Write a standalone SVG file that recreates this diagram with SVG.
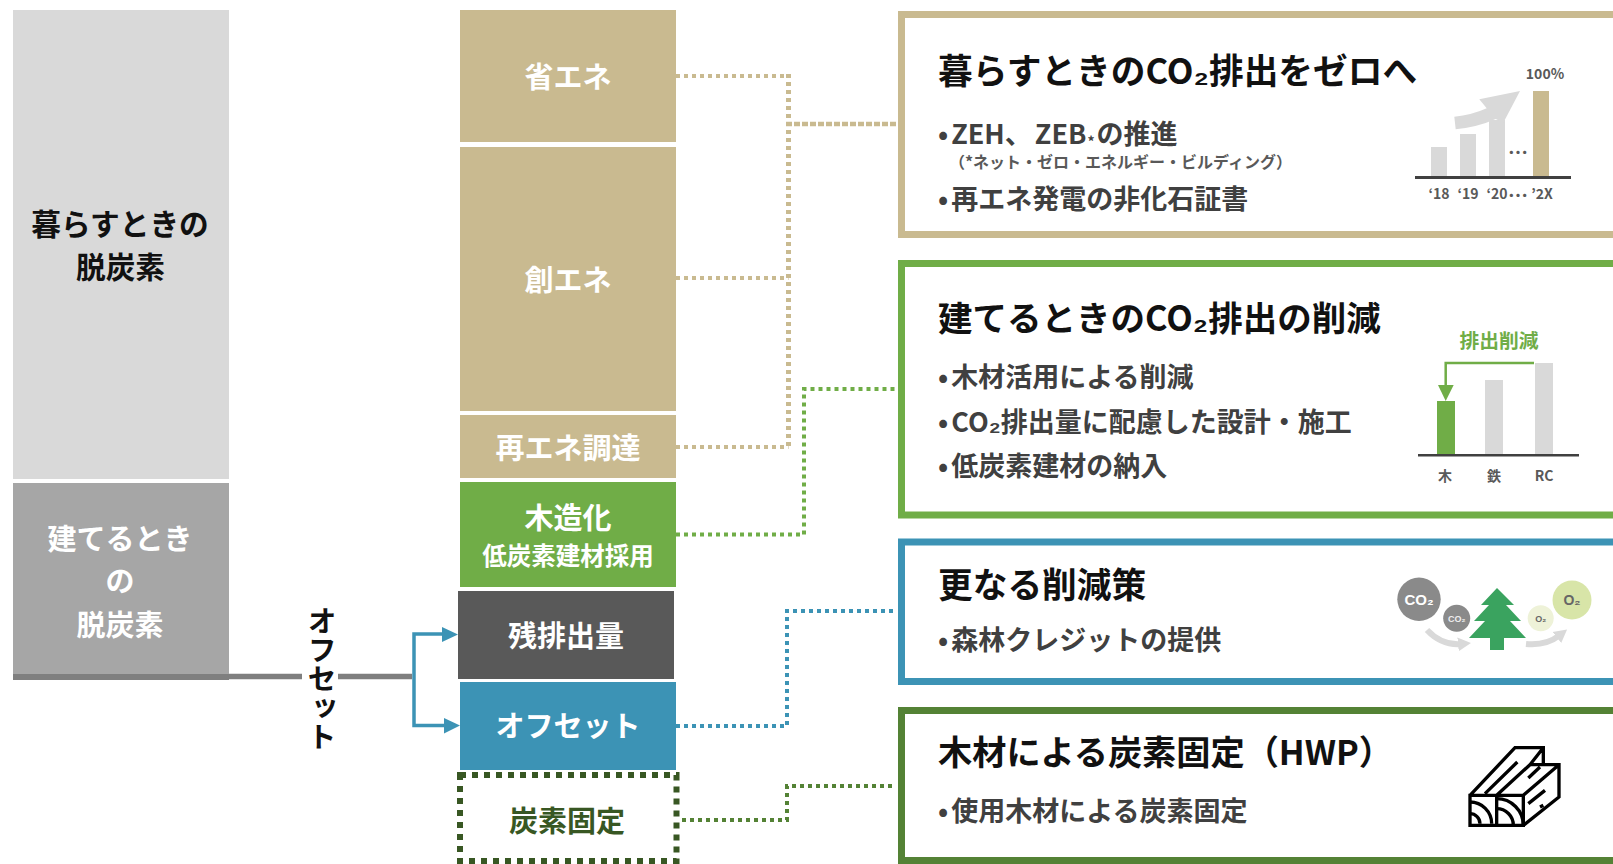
<svg xmlns="http://www.w3.org/2000/svg" width="1613" height="864" viewBox="0 0 1613 864">
<defs>
<style>
text{font-family:"Noto Sans CJK JP","Liberation Sans",sans-serif;font-weight:700}
.w{fill:#fff;font-size:29px;text-anchor:middle}
.tt{fill:#111;font-size:34.500px}
.it{fill:#404040;font-size:27px}
.sm{fill:#595959;font-size:14px;text-anchor:middle}
.lat{font-family:"Liberation Sans",Arial,sans-serif;text-anchor:middle}
.card{fill:#fff;stroke-width:7}
.dot{fill:none;stroke-width:4;stroke-dasharray:4 4}
.icon{fill:#d9d9d9}
</style>
<marker id="bh" markerUnits="userSpaceOnUse" markerWidth="14" markerHeight="16" refX="4" refY="8" orient="auto"><path d="M0 1L13 8L0 15Z" fill="#d9d9d9"/></marker>
</defs>
<rect width="1613" height="864" fill="#fff"/>
<g id="connectors">
<path d="M229 676.500H302M338 676.500H412" fill="none" stroke="#7f7f7f" stroke-width="5.500"/>
<path d="M444 634H414V725.500H446" fill="none" stroke="#3c93b5" stroke-width="3.500"/>
<path d="M442 627L458 634.500L442 642ZM444 718L460 725.500L444 733.500Z" fill="#3c93b5"/>
<g stroke="#c9ba90">
<path class="dot" d="M676 76H788.500"/>
<path class="dot" d="M676 278H788.500"/>
<path class="dot" d="M676 447H788.500"/>
<path class="dot" style="stroke-width:5" d="M788.500 74V449"/>
<path fill="none" stroke-width="4.500" stroke-dasharray="6 2" d="M786 124H896"/>
</g>
<path class="dot" stroke="#70ad47" d="M676 534.500H804V389H896"/>
<path class="dot" stroke="#3c93b5" d="M676 726H787V611H896"/>
<path class="dot" stroke="#548235" d="M682 820H787V786H896"/>
</g>
<g id="n-kurasu"><rect x="13" y="10" width="216" height="469" fill="#d9d9d9"/><text x="120" y="235" font-size="29.700" text-anchor="middle" fill="#111">暮らすときの</text><text x="120.500" y="278" font-size="29.700" text-anchor="middle" fill="#111">脱炭素</text></g>
<g id="n-tateru"><rect x="13" y="483" width="216" height="197" fill="#a6a6a6"/><rect x="13" y="674" width="216" height="6" fill="#7f7f7f"/><text class="w" x="120" y="550">建てるとき</text><text class="w" x="120" y="592">の</text><text class="w" x="120" y="636">脱炭素</text></g>
<g id="n-offset-label"><text x="322" y="606" font-size="29" fill="#111" style="writing-mode:vertical-rl;text-orientation:upright">オフセット</text></g>
<g id="n-shoene"><rect x="460" y="10" width="216" height="132" fill="#c9ba90"/><text class="w" x="568" y="88">省エネ</text></g>
<g id="n-soene"><rect x="460" y="147" width="216" height="264" fill="#c9ba90"/><text class="w" x="568" y="291">創エネ</text></g>
<g id="n-saiene"><rect x="460" y="415" width="216" height="63" fill="#c9ba90"/><text class="w" x="568" y="459">再エネ調達</text></g>
<g id="n-mokuzo"><rect x="460" y="482" width="216" height="105" fill="#70ad47"/><text class="w" x="568" y="529">木造化</text><text class="w" x="568" y="565" style="font-size:24.500px">低炭素建材採用</text></g>
<g id="n-zan"><rect x="458" y="591" width="216" height="88" fill="#595959"/><text class="w" x="566" y="647">残排出量</text></g>
<g id="n-offset"><rect x="460" y="682" width="216" height="88" fill="#3c93b5"/><text class="w" x="568" y="737">オフセット</text></g>
<g id="n-tanso"><rect x="460" y="775" width="216.500" height="86" fill="#fff" stroke="#385723" stroke-width="6" stroke-dasharray="6 6"/><text class="w" x="567" y="831.500" style="fill:#385723">炭素固定</text></g>
<g id="card1"><rect class="card" x="901.500" y="14.500" width="720" height="220" stroke="#c9ba90"/>
<text class="tt" x="938" y="84" style="font-size:34.700px">暮らすときのCO₂排出をゼロへ</text>
<text class="it" x="938" y="144">•<tspan dx="3">ZEH、</tspan><tspan dx="3">ZEB</tspan><tspan font-size="14" dx="1" dy="3">*</tspan><tspan dx="2" dy="-3">の推進</tspan></text>
<text x="949" y="168" font-size="16" fill="#595959">（*ネット・ゼロ・エネルギー・ビルディング）</text>
<text class="it" x="938" y="209">•<tspan dx="3">再エネ発電の非化石証書</tspan></text>
<g id="chart1"><rect class="icon" x="1431" y="147" width="16" height="30"/><rect class="icon" x="1460" y="134" width="16" height="43"/><rect class="icon" x="1489" y="120" width="16" height="57"/><rect x="1533" y="91" width="16" height="86" fill="#c9ba90"/>
<path class="icon" d="M1454.300 116.700Q1472 115 1486.700 108.300L1479.300 99.300L1520 91L1503.300 122.700L1495.700 119Q1478 127 1455.700 129.300Z"/>
<rect x="1415" y="176" width="156" height="3" fill="#404040"/>
<text class="sm" x="1545" y="79">100%</text><text class="sm" style="font-size:20px" x="1518" y="160">…</text>
<text class="sm" x="1439" y="199">‘18</text><text class="sm" x="1468" y="199">‘19</text><text class="sm" x="1497" y="199">‘20</text><text class="sm" style="font-size:20px" x="1518" y="203">…</text><text class="sm" x="1542" y="199">’2X</text></g></g>
<g id="card2"><rect class="card" x="901.500" y="263.500" width="720" height="251.500" stroke="#70ad47"/>
<text class="tt" x="938" y="331">建てるときのCO₂排出の削減</text>
<text class="it" x="938" y="387">•<tspan dx="3">木材活用による削減</tspan></text>
<text class="it" x="938" y="432">•<tspan dx="3">CO₂排出量に配慮した設計・施工</tspan></text>
<text class="it" x="938" y="476">•<tspan dx="3">低炭素建材の納入</tspan></text>
<g id="chart2"><rect x="1437" y="401" width="18" height="54" fill="#70ad47"/><rect class="icon" x="1485" y="380" width="18" height="75"/><rect class="icon" x="1535" y="363" width="18" height="92"/>
<rect x="1418" y="454" width="161" height="2.500" fill="#404040"/>
<path d="M1534 363H1445.700V386" fill="none" stroke="#70ad47" stroke-width="2.500"/><path d="M1438 385H1453.700L1445.700 401Z" fill="#70ad47"/>
<text x="1499" y="348" font-size="19.800" fill="#70ad47" text-anchor="middle">排出削減</text>
<text class="sm" x="1445" y="481">木</text><text class="sm" x="1494" y="481">鉄</text><text class="sm" x="1544" y="481">RC</text></g></g>
<g id="card3"><rect class="card" x="901.500" y="542" width="720" height="139.500" stroke="#3c93b5"/>
<text class="tt" x="938" y="598" style="font-size:34.700px">更なる削減策</text>
<text class="it" x="938" y="650">•<tspan dx="3">森林クレジットの提供</tspan></text>
<g id="forest">
<circle cx="1419" cy="599.300" r="21.700" fill="#8a8a8a"/><text class="lat" x="1419" y="605" font-size="15" fill="#fff">CO₂</text>
<circle cx="1456.700" cy="618.300" r="13.500" fill="#8a8a8a"/><text class="lat" x="1456.700" y="622" font-size="9" fill="#eee">CO₂</text>
<path d="M1427 630Q1442 646 1462 644" fill="none" stroke="#d9d9d9" stroke-width="6" marker-end="url(#bh)"/>
<path d="M1526 644Q1546 646 1560 635" fill="none" stroke="#d9d9d9" stroke-width="6" marker-end="url(#bh)"/>
<path d="M1497 588L1514 605H1506L1521 621H1510L1526 638H1504V650H1490V638H1469L1485 621H1474L1489 605H1481Z" fill="#3aa35f"/>
<circle cx="1540.700" cy="618.300" r="13" fill="#eef2d8"/><text class="lat" x="1540.700" y="622" font-size="9" fill="#666">O₂</text>
<circle cx="1572" cy="600" r="19.500" fill="#d8e5a8"/><text class="lat" x="1572" y="605" font-size="14" fill="#666">O₂</text></g></g>
<g id="card4"><rect class="card" x="901.500" y="710.500" width="720" height="150" stroke="#548235"/>
<text class="tt" x="938" y="765" style="font-size:34.200px">木材による炭素固定（HWP）</text>
<text class="it" x="938" y="821">•<tspan dx="3">使用木材による炭素固定</tspan></text>
<g id="wood" transform="translate(1460 742) scale(.3333)" fill="none" stroke="#000" stroke-width="10">
<path d="M30 160H190V250H30ZM110 160V250M30 160L165 17H250V65M110 160L210 68H297V165L190 250M190 160L297 68M250 17L210 68M75 155L172 60M205 108L240 75M205 185L255 145M240 195L250 190"/>
<path d="M30 215A30 30 0 0 1 60 245M30 180A65 65 0 0 1 95 245M110 200A50 50 0 0 1 160 250M110 170A80 80 0 0 1 190 250"/></g></g>
</svg>
